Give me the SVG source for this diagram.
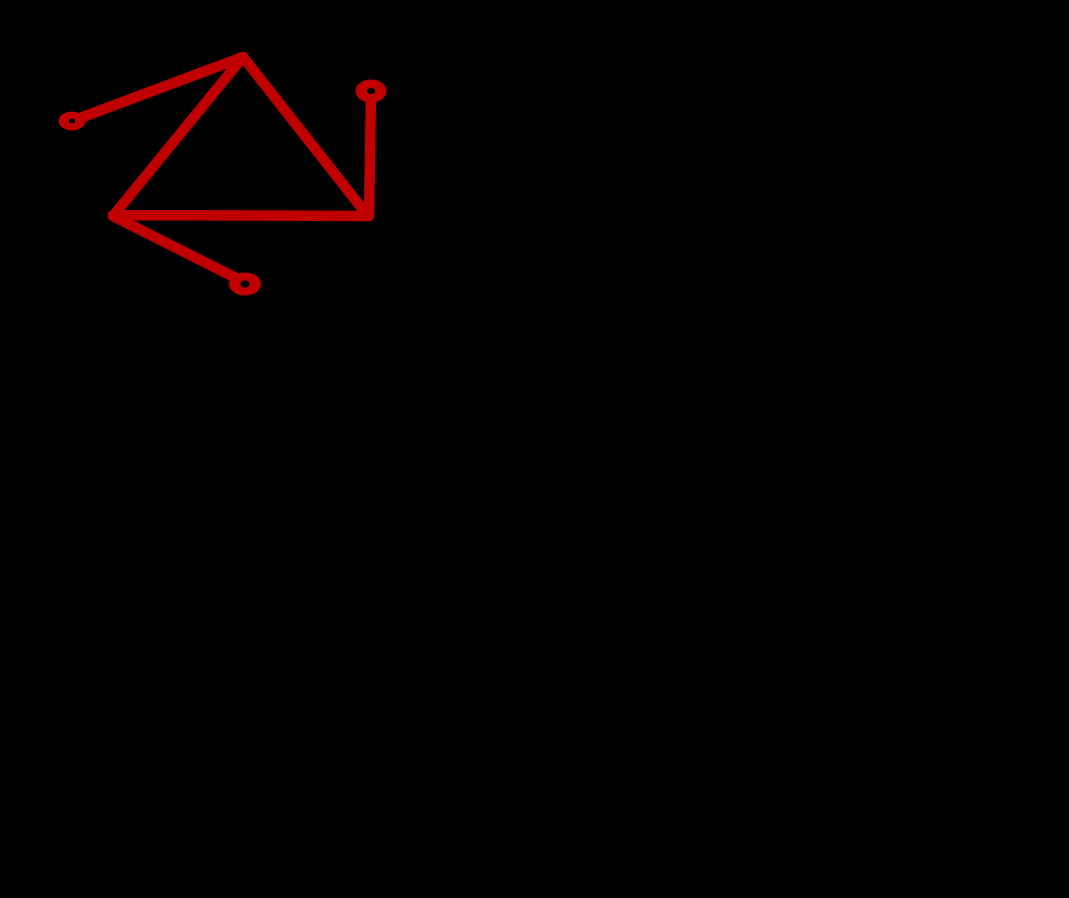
<svg xmlns="http://www.w3.org/2000/svg" width="1069" height="898" viewBox="0 0 1069 898">
<style>
.w{fill:none;stroke:#c00000;stroke-width:10.5;stroke-linecap:round;stroke-linejoin:round}
.t{fill:#c00000}
.h{fill:#000}
</style>
<rect width="1069" height="898" fill="#000"/>
<g id="connectors">
<polyline class="w" points="113,216 243,57 368,216 113,215"/>
<line class="w" x1="72" y1="121" x2="243" y2="57"/>
<line class="w" x1="369" y1="216" x2="371" y2="92"/>
<line class="w" x1="113" y1="216" x2="244" y2="282"/>
</g>
<g id="terminal-left"><ellipse class="t" cx="72" cy="121" rx="13.5" ry="9.5"/><ellipse class="h" cx="72" cy="121" rx="3" ry="2.5"/></g>
<g id="terminal-top-right"><ellipse class="t" cx="371" cy="91" rx="15.5" ry="11.5"/><ellipse class="h" cx="371" cy="91" rx="4" ry="3"/></g>
<g id="terminal-bottom"><ellipse class="t" cx="245" cy="284" rx="16" ry="11.5"/><ellipse class="h" cx="245" cy="284" rx="4.5" ry="3.5"/></g>
</svg>
